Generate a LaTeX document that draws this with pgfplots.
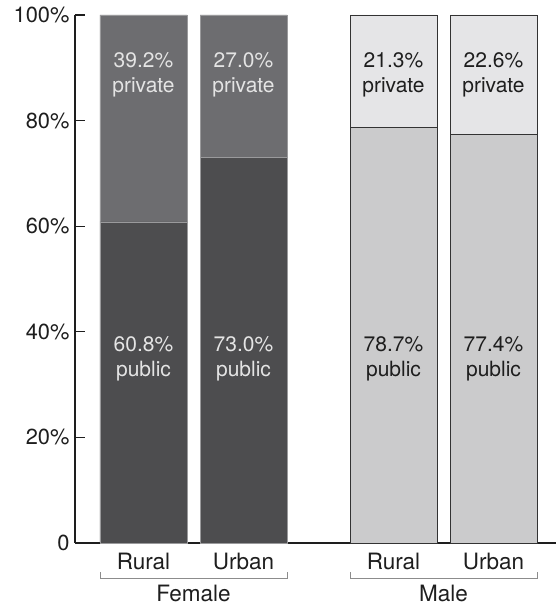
\documentclass[border=0pt]{standalone}
\usepackage{pgfplots}
\pgfplotsset{compat=1.18}
\usepackage{fontspec}
\setmainfont{TeX Gyre Heros}
\definecolor{fpub}{HTML}{4D4D4F}
\definecolor{fpri}{HTML}{6D6D70}
\definecolor{fedge}{HTML}{9A9A9C}
\definecolor{mpub}{HTML}{CBCBCC}
\definecolor{mpri}{HTML}{E5E5E7}
\definecolor{medge}{HTML}{333333}
\definecolor{txt}{HTML}{1E1E1E}
\definecolor{ftxt}{HTML}{E4E4E4}
\definecolor{brk}{HTML}{8C8C8C}
\newcommand\bl{\fontsize{21pt}{24pt}\selectfont}
\newcommand\xl{\fontsize{22.5pt}{26pt}\selectfont}
\newcommand\yl{\fontsize{21.8pt}{24pt}\selectfont}
\pgfplotsset{common/.style={scale only axis, width=481pt, height=528pt,
  at={(0pt,0pt)}, anchor=south west,
  xmin=-0.685, xmax=4.125, ymin=0, ymax=100, clip=false}}
\tikzset{lab/.style={anchor=base, font=\bl}}
\begin{document}
\begin{tikzpicture}
\useasboundingbox (-75pt,-64pt) rectangle (481pt,543pt);
\begin{axis}[common, ybar stacked, bar width=0.87,
  axis x line*=bottom, axis y line*=left,
  axis line style={line width=1.1pt, color=txt},
  tick align=inside,
  xtick={0,1,2.5,3.5}, xticklabels={Rural,Urban,Rural,Urban},
  xtick style={draw=none},
  xticklabel style={anchor=base, yshift=-27pt, text=txt, font=\xl},
  ytick={0,20,40,60,80,100},
  yticklabels={0,20\%,40\%,60\%,80\%,100\%},
  major tick length=10pt,
  ytick style={line width=1.1pt, color=txt},
  yticklabel style={xshift=-2pt, text=txt, font=\yl},
]
\addplot[fill=fpub, draw=fedge, line width=0.6pt] coordinates {(0,60.8) (1,73.0)};
\addplot[fill=fpri, draw=fedge, line width=0.6pt] coordinates {(0,39.2) (1,27.0)};
\end{axis}
\begin{axis}[common, ybar stacked, bar width=0.87, hide axis]
\addplot[fill=mpub, draw=medge, line width=0.7pt] coordinates {(2.5,78.7) (3.5,77.4)};
\addplot[fill=mpri, draw=medge, line width=0.7pt] coordinates {(2.5,21.3) (3.5,22.6)};
\end{axis}
\begin{axis}[common, hide axis]
\addplot[draw=none, mark=none] coordinates {(0,0) (1,0)};
\node[lab, text=ftxt] at (axis cs:0,90) {39.2\%};
\node[lab, text=ftxt] at (axis cs:0,85.4) {private};
\node[lab, text=ftxt] at (axis cs:1,90) {27.0\%};
\node[lab, text=ftxt] at (axis cs:1,85.4) {private};
\node[lab, text=ftxt] at (axis cs:0,36.2) {60.8\%};
\node[lab, text=ftxt] at (axis cs:0,31.6) {public};
\node[lab, text=ftxt] at (axis cs:1,36.2) {73.0\%};
\node[lab, text=ftxt] at (axis cs:1,31.6) {public};
\node[lab, text=txt] at (axis cs:2.5,90) {21.3\%};
\node[lab, text=txt] at (axis cs:2.5,85.4) {private};
\node[lab, text=txt] at (axis cs:3.5,90) {22.6\%};
\node[lab, text=txt] at (axis cs:3.5,85.4) {private};
\node[lab, text=txt] at (axis cs:2.5,36.2) {78.7\%};
\node[lab, text=txt] at (axis cs:2.5,31.6) {public};
\node[lab, text=txt] at (axis cs:3.5,36.2) {77.4\%};
\node[lab, text=txt] at (axis cs:3.5,31.6) {public};
\draw[brk, line width=0.9pt] (axis cs:-0.435,-5.5) |- (axis cs:1.435,-6.63) -- (axis cs:1.435,-5.5);
\draw[brk, line width=0.9pt] (axis cs:2.065,-5.5) |- (axis cs:3.935,-6.63) -- (axis cs:3.935,-5.5);
\node[anchor=base, text=txt, font=\xl, inner sep=0pt] at (axis cs:0.5,-11.1) {Female};
\node[anchor=base, text=txt, font=\xl, inner sep=0pt] at (axis cs:3.0,-11.1) {Male};
\end{axis}
\end{tikzpicture}
\end{document}
